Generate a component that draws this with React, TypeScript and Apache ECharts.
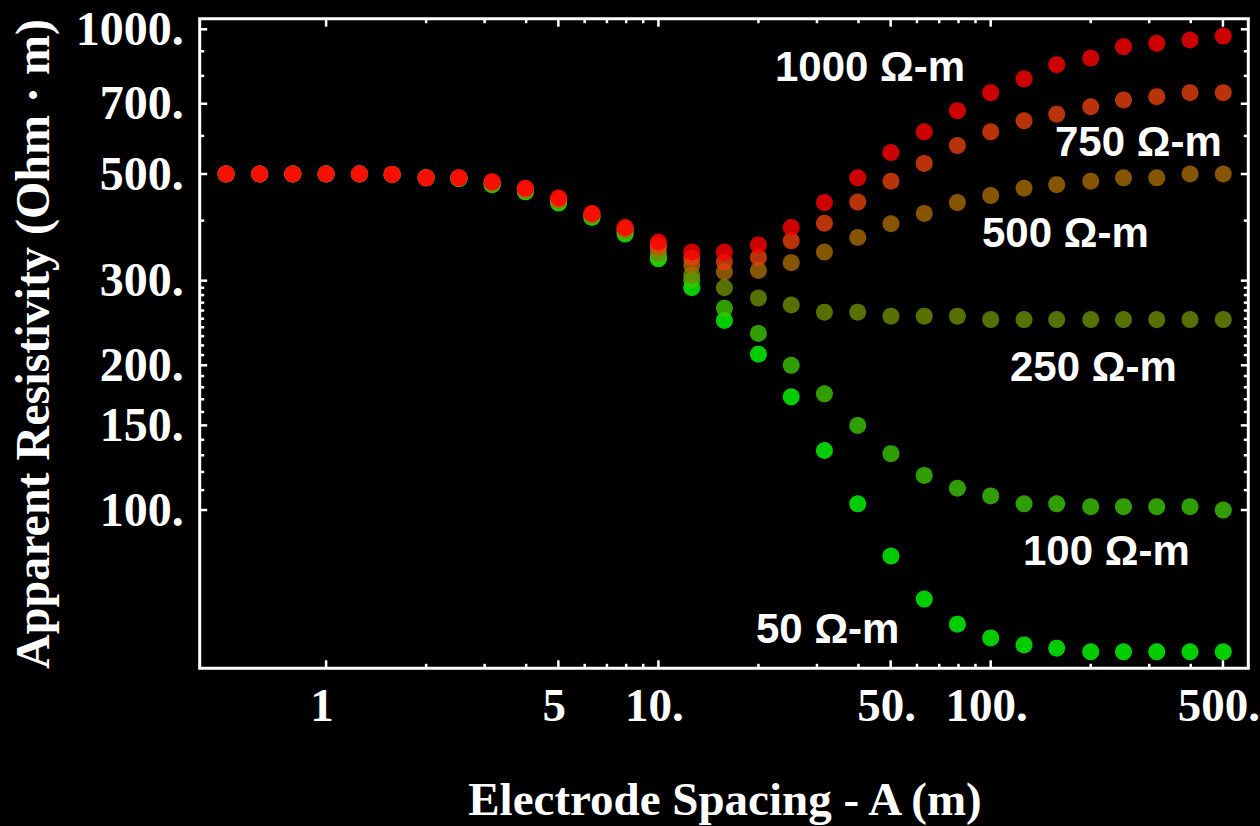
import React, { useEffect, useRef } from 'react';
import * as echarts from 'echarts';

// Electrode spacing A (m)
const spacing = [0.5, 0.631, 0.794, 1, 1.26, 1.58, 2.0, 2.51, 3.16, 3.98, 5.01, 6.31, 7.94, 10, 12.6, 15.8, 20, 25.1, 31.6, 39.8, 50.1, 63.1, 79.4, 100, 126, 158, 200, 251, 316, 398, 501];

// Apparent resistivity (Ohm-m) for each bottom-layer resistivity
const rho1000 = [500, 500, 500, 500, 500, 499, 491, 491, 482, 467, 446, 414, 387, 361, 344, 344, 356, 387, 436, 491, 554, 612, 677, 738, 789, 844, 871, 920, 935, 950, 968];
const rho750 = [500, 500, 500, 500, 500, 499, 491, 491, 481, 466, 444, 413, 386, 356, 334, 328, 335, 363, 395, 437, 483, 526, 573, 612, 645, 666, 690, 713, 724, 738, 738];
const rho500 = [500, 500, 500, 500, 500, 499, 491, 490, 480, 464, 442, 412, 384, 351, 323, 313, 315, 327, 344, 369, 394, 414, 436, 451, 467, 475, 483, 491, 491, 500, 500];
const rho250 = [500, 500, 500, 500, 500, 499, 491, 490, 478, 462, 440, 410, 381, 342, 308, 290, 276, 267, 258, 258, 253, 253, 253, 249, 249, 249, 249, 249, 249, 249, 249];
const rho100 = [500, 500, 500, 500, 500, 499, 491, 489, 476, 460, 437, 408, 378, 336, 301, 263, 233, 200, 174.5, 150, 131, 118, 111, 107, 103, 103, 101.6, 101.6, 101.6, 101.6, 100];
const rho50 = [500, 500, 500, 500, 500, 499, 491, 489, 475, 459, 435, 406, 375, 333, 290, 248, 211, 172, 133, 103, 80.2, 65.3, 57.9, 54.2, 52.4, 51.6, 50.7, 50.7, 50.7, 50.7, 50.7];

const seriesNames = ['50 Ω-m', '100 Ω-m', '250 Ω-m', '500 Ω-m', '750 Ω-m', '1000 Ω-m'];
const seriesValues = [rho50, rho100, rho250, rho500, rho750, rho1000];

// Ticks
const xTicks = [1, 2, 3, 4, 5, 6, 7, 8, 9, 10, 20, 30, 40, 50, 60, 70, 80, 90, 100, 200, 300, 400, 500];
const xTickLabels = ['1', '', '', '', '5', '', '', '', '', '10.', '', '', '', '50.', '', '', '', '', '100.', '', '', '', '500.'];
const yTicks = [100, 110, 120, 130, 140, 150, 160, 170, 180, 190, 200, 210, 220, 230, 240, 250, 260, 270, 280, 290, 300, 400, 500, 600, 700, 800, 900, 1000];
const yTickLabels = ['100.', '', '', '', '', '150.', '', '', '', '', '200.', '', '', '', '', '', '', '', '', '', '300.', '', '500.', '', '700.', '', '', '1000.'];

const xTitle = 'Electrode Spacing - A (m)';
const yTitle = 'Apparent Resistivity (Ohm · m)';

const X_MIN = 0.4165;
const X_MAX = 596;
const Y_MIN = 46.86;
const Y_MAX = 1052;

const COLORS = ['#00ff00', '#3cc402', '#6c8c02', '#a86a00', '#e6400c', '#ff0000'];
const SERIF = '"Liberation Serif", "DejaVu Serif", serif';
const SANS = '"Liberation Sans", "DejaVu Sans", sans-serif';

export default function App() {
  const ref = useRef<HTMLDivElement>(null);

  useEffect(() => {
    if (!ref.current) return;
    const chart = echarts.init(ref.current, null, { renderer: 'svg' });

    const scatterSeries = seriesValues.map((vals, si) => ({
      type: 'scatter',
      name: seriesNames[si],
      data: spacing.map((x, i) => [x, vals[i]]),
      symbol: 'circle',
      symbolSize: 17,
      itemStyle: { color: COLORS[si] },
      silent: true,
      z: 2,
    }));

    const xTickSeries = {
      type: 'custom',
      coordinateSystem: 'cartesian2d',
      data: xTicks.map((v) => [v, Y_MIN]),
      clip: false,
      silent: true,
      z: 5,
      renderItem: (params: any, api: any) => {
        const i = params.dataIndex;
        const v = xTicks[i];
        const label = xTickLabels[i];
        const major = label !== '';
        const b = api.coord([v, Y_MIN]);
        const t = api.coord([v, Y_MAX]);
        const len = major ? 8 : 4.5;
        const children: any[] = [
          { type: 'line', shape: { x1: b[0], y1: b[1], x2: b[0], y2: b[1] - len }, style: { stroke: '#fff', lineWidth: 2.5 } },
          { type: 'line', shape: { x1: t[0], y1: t[1], x2: t[0], y2: t[1] + len }, style: { stroke: '#fff', lineWidth: 2.5 } },
        ];
        if (major) {
          children.push({
            type: 'text',
            x: b[0] - 4,
            y: b[1] + 37,
            style: { text: label, fill: '#fff', fontSize: 47, fontWeight: 'bold', fontFamily: SERIF, align: 'center', verticalAlign: 'middle' },
          });
        }
        return { type: 'group', children };
      },
    };

    const yTickSeries = {
      type: 'custom',
      coordinateSystem: 'cartesian2d',
      data: yTicks.map((v) => [X_MIN, v]),
      clip: false,
      silent: true,
      z: 5,
      renderItem: (params: any, api: any) => {
        const i = params.dataIndex;
        const v = yTicks[i];
        const label = yTickLabels[i];
        const major = label !== '';
        const l = api.coord([X_MIN, v]);
        const r = api.coord([X_MAX, v]);
        const len = major ? 7.5 : 4.5;
        const children: any[] = [
          { type: 'line', shape: { x1: l[0], y1: l[1], x2: l[0] + len, y2: l[1] }, style: { stroke: '#fff', lineWidth: 2.5 } },
          { type: 'line', shape: { x1: r[0], y1: r[1], x2: r[0] - len, y2: r[1] }, style: { stroke: '#fff', lineWidth: 2.5 } },
        ];
        if (major) {
          children.push({
            type: 'text',
            x: l[0] - 16,
            y: l[1] - 1,
            style: { text: label, fill: '#fff', fontSize: 48, fontWeight: 'bold', fontFamily: SERIF, align: 'right', verticalAlign: 'middle' },
          });
        }
        return { type: 'group', children };
      },
    };

    const annotationPos = [
      [756, 628],
      [1023, 550],
      [1010, 366],
      [982, 232],
      [1055, 141],
      [775, 66],
    ];

    const annotations = seriesNames.map((name, i) => ({
      type: 'text',
      x: annotationPos[i][0],
      y: annotationPos[i][1],
      z: 10,
      style: { text: name, fill: '#fff', fontSize: 42, fontWeight: 'bold', fontFamily: SANS, align: 'left', verticalAlign: 'middle' },
    }));

    chart.setOption({
      animation: false,
      backgroundColor: '#000',
      grid: {
        left: 199.7,
        top: 18.7,
        right: 11.7,
        bottom: 157.7,
        show: true,
        borderColor: '#fff',
        borderWidth: 3,
        backgroundColor: 'transparent',
        containLabel: false,
      },
      xAxis: {
        type: 'log',
        logBase: 10,
        min: X_MIN,
        max: X_MAX,
        axisLine: { show: false },
        axisTick: { show: false },
        axisLabel: { show: false },
        splitLine: { show: false },
      },
      yAxis: {
        type: 'log',
        logBase: 10,
        min: Y_MIN,
        max: Y_MAX,
        axisLine: { show: false },
        axisTick: { show: false },
        axisLabel: { show: false },
        splitLine: { show: false },
      },
      graphic: [
        ...annotations,
        {
          type: 'text',
          x: 725,
          y: 799,
          style: { text: xTitle, fill: '#fff', fontSize: 47, fontWeight: 'bold', fontFamily: SERIF, align: 'center', verticalAlign: 'middle' },
        },
        {
          type: 'text',
          x: 32.5,
          y: 344,
          rotation: Math.PI / 2,
          style: { text: yTitle, fill: '#fff', fontSize: 48, fontWeight: 'bold', fontFamily: SERIF, align: 'center', verticalAlign: 'middle' },
        },
      ],
      series: [...scatterSeries, xTickSeries, yTickSeries],
    });

    return () => {
      chart.dispose();
    };
  }, []);

  return (
    <div
      ref={ref}
      style={{ position: 'fixed', left: 0, top: 0, width: 1260, height: 826, background: '#000' }}
    />
  );
}
